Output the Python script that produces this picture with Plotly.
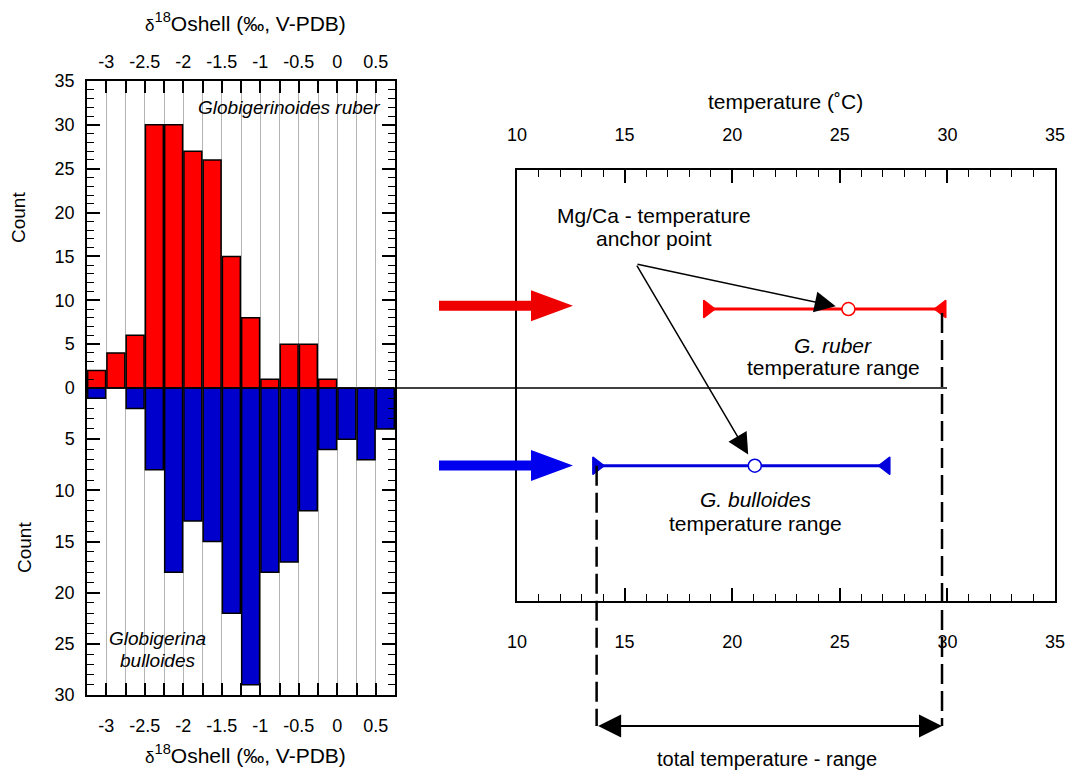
import plotly.graph_objects as go

W, H = 1065, 772

# ---------------- data ----------------
d18o_bin_centers = [-3.125, -2.875, -2.625, -2.375, -2.125, -1.875, -1.625, -1.375,
                    -1.125, -0.875, -0.625, -0.375, -0.125, 0.125, 0.375, 0.625]
ruber_counts = [2, 4, 6, 30, 30, 27, 26, 15, 8, 1, 5, 5, 1, 0, 0, 0]
bulloides_counts = [1, 0, 2, 8, 18, 13, 15, 22, 29, 18, 17, 12, 6, 5, 7, 4]

d18o_tickvals = [-3, -2.5, -2, -1.5, -1, -0.5, 0, 0.5]
d18o_ticktext = ["-3", "-2.5", "-2", "-1.5", "-1", "-0.5", "0", "0.5"]
d18o_minor_tickvals = [-2.75, -2.25, -1.75, -1.25, -0.75, -0.25, 0.25]
count_ticks_top = [0, 5, 10, 15, 20, 25, 30, 35]
count_ticks_bottom = [5, 10, 15, 20, 25, 30]

species = ["G. ruber", "G. bulloides"]
temp_min = [18.85, 13.7]
temp_anchor = [25.4, 21.05]
temp_max = [29.75, 27.15]
temp_ticks = [10, 15, 20, 25, 30, 35]

# ---------------- layout helpers ----------------
FONT = "Arial, Liberation Sans, sans-serif"
RED, BLUE = "#ff0000", "#0000cc"
RED_L, BLUE_L = "#ff0000", "#0000dd"


def px(x):
    return x / W


def py(y):
    return 1 - y / H


LX = [px(87), px(395)]
TOP_Y = [py(388), py(81)]
BOT_Y = [py(695), py(388)]
RX = [px(517), px(1055)]
RY = [py(601), py(170)]
T_RANGE = [10, 35]
Y3_RANGE = [0.137, 2.887]
levels = [2, 1]


def y3paper(v):
    return RY[0] + (v - Y3_RANGE[0]) / (Y3_RANGE[1] - Y3_RANGE[0]) * (RY[1] - RY[0])


fig = go.Figure()

# histograms
fig.add_trace(go.Bar(x=d18o_bin_centers, y=ruber_counts, xaxis="x", yaxis="y",
                     marker=dict(color=RED, line=dict(color="black", width=1.5)),
                     showlegend=False))
fig.add_trace(go.Bar(x=d18o_bin_centers, y=bulloides_counts, xaxis="x2", yaxis="y2",
                     marker=dict(color=BLUE, line=dict(color="black", width=1.5)),
                     showlegend=False))

# temperature ranges
colors = [RED_L, BLUE_L]
xaxes = ["x4", "x3"]
for i in range(2):
    c = colors[i]
    fig.add_trace(go.Scatter(
        x=[temp_min[i], temp_anchor[i], temp_max[i]],
        y=[levels[i]] * 3,
        mode="lines+markers",
        line=dict(color=c, width=3),
        marker=dict(symbol=["triangle-right", "circle", "triangle-left"],
                    size=[15, 13, 15], color=[c, "white", c], opacity=1,
                    line=dict(color=c, width=1.5)),
        xaxis=xaxes[i], yaxis="y3", cliponaxis=False, showlegend=False))

tickfont = dict(family=FONT, size=18, color="black")
common_x = dict(range=[-3.25, 0.75], tickmode="array", tickvals=d18o_tickvals,
                ticktext=d18o_ticktext, ticks="inside", ticklen=12, tickwidth=1.5,
                tickcolor="black", showgrid=True, gridcolor="#b4b4b4", gridwidth=1,
                minor=dict(tickmode="array", tickvals=d18o_minor_tickvals,
                           ticks="inside", ticklen=12, tickwidth=1.5,
                           tickcolor="black", showgrid=True, gridcolor="#b4b4b4",
                           gridwidth=1),
                showline=True, linecolor="black", linewidth=1.5, zeroline=False,
                tickfont=tickfont, domain=LX, automargin=False)
common_y = dict(ticks="inside", ticklen=13, tickwidth=1.5, tickcolor="black",
                minor=dict(ticks="inside", ticklen=7, dtick=1, tickwidth=1.2,
                           tickcolor="black", showgrid=False),
                showline=True, linecolor="black", linewidth=1.5, mirror="ticks",
                showgrid=False, zeroline=False, tickfont=tickfont,
                ticklabelstandoff=7, automargin=False)
common_t = dict(range=T_RANGE, tickmode="array", tickvals=temp_ticks,
                ticks="inside", ticklen=13, tickwidth=1.5, tickcolor="black",
                minor=dict(ticks="inside", ticklen=7, dtick=1, tickwidth=1.2,
                           tickcolor="black", showgrid=False),
                showline=True, linecolor="black", linewidth=1.5, showgrid=False,
                zeroline=False, tickfont=tickfont, domain=RX, automargin=False,
                ticklabeloverflow="allow")

fig.update_layout(
    width=W, height=H, margin=dict(l=0, r=0, t=0, b=0, autoexpand=False),
    paper_bgcolor="white", plot_bgcolor="rgba(0,0,0,0)",
    bargap=0.07, showlegend=False,
    font=dict(family=FONT, color="black"),
    xaxis=dict(**common_x, anchor="y", side="top", ticklabelstandoff=4),
    xaxis2=dict(**common_x, anchor="y2", side="bottom", matches="x",
                ticklabelstandoff=14),
    yaxis=dict(**common_y, domain=TOP_Y, range=[0, 35], tickmode="array",
               tickvals=count_ticks_top, anchor="x"),
    yaxis2=dict(**common_y, domain=BOT_Y, range=[30, 0], tickmode="array",
                tickvals=count_ticks_bottom, anchor="x2"),
    xaxis3=dict(**common_t, anchor="y3", side="bottom", ticklabelstandoff=24),
    xaxis4=dict(**common_t, anchor="y3", side="top", overlaying="x3",
                matches="x3", ticklabelstandoff=20),
    yaxis3=dict(domain=RY, range=Y3_RANGE, anchor="x3", showline=True,
                linecolor="black", linewidth=1.5, mirror=True, ticks="",
                showticklabels=False, showgrid=False, zeroline=False,
                automargin=False),
)

shapes = []
# zero line across
shapes.append(dict(type="line", xref="paper", yref="paper", x0=LX[0], x1=px(947),
                   y0=TOP_Y[0], y1=TOP_Y[0], line=dict(color="black", width=1.5)))
# dashed verticals
lo, hi = min(temp_min), max(temp_max)
shapes.append(dict(type="line", xref="x3", yref="paper", x0=lo, x1=lo,
                   y0=y3paper(levels[1]), y1=py(726),
                   line=dict(color="black", width=2.5, dash="20px,7px")))
shapes.append(dict(type="line", xref="x3", yref="paper", x0=hi, x1=hi,
                   y0=y3paper(levels[0]) - 4 / H, y1=py(726),
                   line=dict(color="black", width=2.5, dash="20px,7px")))


# big horizontal arrows
def big_arrow(yc, color):
    pts = [(439, yc - 5), (531, yc - 5), (531, yc - 15.5), (573, yc), (531, yc + 15.5),
           (531, yc + 5), (439, yc + 5)]
    path = "M " + " L ".join(f"{px(a):.5f},{py(b):.5f}" for a, b in pts) + " Z"
    return dict(type="path", xref="paper", yref="paper", path=path,
                fillcolor=color, line=dict(color=color, width=0))


shapes.append(big_arrow(305.7, "#ee0000"))
shapes.append(big_arrow(465.5, "#0000ee"))
fig.update_layout(shapes=shapes)

ann = []


def txt(x, y, s, size=21, italic=False, xanchor="center", angle=0):
    if italic:
        s = f"<i>{s}</i>"
    ann.append(dict(x=px(x), y=py(y), xref="paper", yref="paper", text=s,
                    showarrow=False, xanchor=xanchor, yanchor="middle",
                    textangle=angle, font=dict(family=FONT, size=size, color="black")))


delta_title = "<span style='font-size:17px'>δ</span><sup>18</sup>Oshell (‰, V-PDB)"
txt(245, 22, delta_title, size=21)
txt(245, 754, delta_title, size=21)
txt(18, 217, "Count", size=19, angle=-90)
txt(24, 548, "Count", size=19, angle=-90)
txt(382, 107, "Globigerinoides ruber", size=19, italic=True, xanchor="right")
txt(157, 638, "Globigerina", size=19, italic=True)
txt(157, 660, "bulloides", size=19, italic=True)
txt(785, 101, "temperature (˚C)", size=21)
txt(654, 215, "Mg/Ca - temperature", size=21)
txt(654, 238, "anchor point", size=21)
txt(833, 345, species[0], size=21, italic=True)
txt(833, 368, "temperature range", size=21)
txt(755, 499, species[1], size=21, italic=True)
txt(755, 523, "temperature range", size=21)
txt(767, 759, "total temperature - range", size=20)

# Mg/Ca anchor arrows
MGCA_TAIL = (15.53, 2.287)
for i in range(2):
    ann.append(dict(x=temp_anchor[i], y=levels[i], xref="x3", yref="y3",
                    ax=MGCA_TAIL[0], ay=MGCA_TAIL[1], axref="x3", ayref="y3",
                    showarrow=True, arrowhead=2, arrowsize=2.8, arrowwidth=1.5,
                    arrowcolor="black", standoff=13, text=""))

# total range double arrow
ann.append(dict(x=hi, y=py(726), xref="x3", yref="paper", ax=lo, ay=0,
                axref="x3", ayref="pixel", showarrow=True, arrowhead=2,
                startarrowhead=2, arrowside="end+start", arrowsize=2.3,
                startarrowsize=2.3, arrowwidth=2, arrowcolor="black", text=""))

fig.update_layout(annotations=ann)
fig.write_html("out.html", config={"displayModeBar": False},
               post_script="document.body.style.margin='0';"
                           "document.body.style.padding='0';")
